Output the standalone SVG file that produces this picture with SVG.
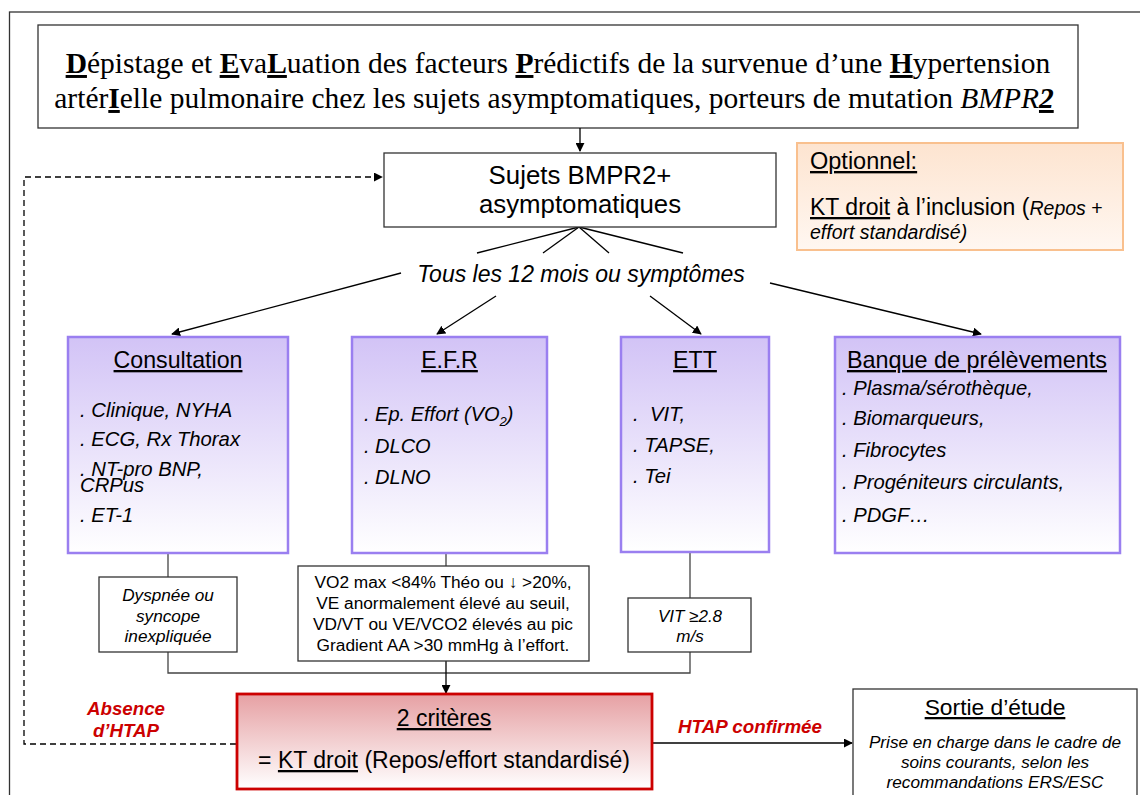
<svg xmlns="http://www.w3.org/2000/svg" width="1140" height="795" viewBox="0 0 1140 795">
  <defs>
    <linearGradient id="gPurple" x1="0" y1="0" x2="0" y2="1">
      <stop offset="0" stop-color="#d2c3f6"/>
      <stop offset="1" stop-color="#ffffff"/>
    </linearGradient>
    <linearGradient id="gRed" x1="0" y1="0" x2="0" y2="1">
      <stop offset="0" stop-color="#e6a0a3"/>
      <stop offset="1" stop-color="#ffffff"/>
    </linearGradient>
    <linearGradient id="gOrange" x1="0" y1="0" x2="0" y2="1">
      <stop offset="0" stop-color="#fde4d0"/>
      <stop offset="1" stop-color="#fff7f1"/>
    </linearGradient>
    <marker id="arr" viewBox="0 0 10 10" refX="9" refY="5" markerWidth="9" markerHeight="9" markerUnits="userSpaceOnUse" orient="auto">
      <path d="M0,0 L10,5 L0,10 Z" fill="#000"/>
    </marker>
  </defs>
  <style>
    .serif { font-family: "Liberation Serif", "Times New Roman", serif; fill: #000; }
    .sans { font-family: "Liberation Sans", Arial, sans-serif; fill: #000; }
    .it { font-style: italic; }
    .u { text-decoration: underline; }
    .b { font-weight: bold; }
    .box { fill: #fff; stroke: #333; stroke-width: 1.3; }
    .pbox { fill: url(#gPurple); stroke: #9a7ff0; stroke-width: 2.5; }
    .line { fill: none; stroke: #000; stroke-width: 1.3; }
    .grey { fill: none; stroke: #444; stroke-width: 1.3; }
    .red { fill: #cc0000; }
  </style>

  <!-- outer frame -->
  <rect x="9.5" y="12" width="1140" height="800" fill="none" stroke="#333" stroke-width="1.3"/>

  <!-- title -->
  <g id="title">
    <rect class="box" x="38" y="25" width="1040" height="103"/>
    <text class="serif" x="558" y="73" font-size="29.5" text-anchor="middle"><tspan class="b u">D</tspan>épistage et <tspan class="b u">E</tspan>va<tspan class="b u">L</tspan>uation des facteurs <tspan class="b u">P</tspan>rédictifs de la survenue d’une <tspan class="b u">H</tspan>ypertension</text>
    <text class="serif" x="554" y="108" font-size="29.5" text-anchor="middle">artér<tspan class="b u">I</tspan>elle pulmonaire chez les sujets asymptomatiques, porteurs de mutation <tspan class="it">BMPR</tspan><tspan class="it b u">2</tspan></text>
  </g>

  <!-- connectors -->
  <g id="connectors">
    <line class="line" x1="580" y1="128" x2="580" y2="151" marker-end="url(#arr)"/>
    <!-- fan from subjects box -->
    <line class="line" x1="579" y1="227" x2="477" y2="253"/>
    <line class="line" x1="579" y1="227" x2="543" y2="253"/>
    <line class="line" x1="579" y1="227" x2="609" y2="253"/>
    <line class="line" x1="579" y1="227" x2="683" y2="253"/>
    <!-- to the four exams -->
    <line class="line" x1="401" y1="273" x2="172" y2="334" marker-end="url(#arr)"/>
    <line class="line" x1="496" y1="296" x2="437" y2="334" marker-end="url(#arr)"/>
    <line class="line" x1="650" y1="296" x2="701" y2="334" marker-end="url(#arr)"/>
    <line class="line" x1="770" y1="283" x2="981" y2="334" marker-end="url(#arr)"/>
    <!-- exams to criteria -->
    <line class="grey" x1="168" y1="553" x2="168" y2="577"/>
    <line class="grey" x1="446" y1="553" x2="446" y2="566"/>
    <line class="grey" x1="690" y1="552" x2="690" y2="598"/>
    <polyline class="grey" points="168,652 168,673 690,673 690,652"/>
    <line class="line" x1="446" y1="661" x2="446" y2="693" marker-end="url(#arr)"/>
    <!-- confirmed -->
    <line class="line" x1="652" y1="743" x2="852" y2="743" marker-end="url(#arr)"/>
    <!-- loop back -->
    <polyline fill="none" stroke="#000" stroke-width="1.3" stroke-dasharray="6,4" points="236,744 24,744 24,177 382,177" marker-end="url(#arr)"/>
  </g>

  <g id="sujets">
    <rect class="box" x="384" y="153" width="392" height="74"/>
    <text class="sans" x="580" y="184" font-size="25.8" text-anchor="middle">Sujets BMPR2+</text>
    <text class="sans" x="580" y="213" font-size="25.8" text-anchor="middle">asymptomatiques</text>
  </g>

  <g id="optionnel">
    <rect x="797" y="143" width="326" height="107" fill="url(#gOrange)" stroke="#f9c08e" stroke-width="2"/>
    <text class="sans u" x="810" y="169" font-size="23.5">Optionnel:</text>
    <text class="sans" x="810" y="215" font-size="23"><tspan class="u">KT droit</tspan> à l’inclusion (<tspan class="it" font-size="19.5">Repos</tspan><tspan font-size="19.5"> +</tspan></text>
    <text class="sans it" x="810" y="239" font-size="19.5">effort standardisé)</text>
  </g>

  <g id="frequence">
    <text class="sans it" x="581" y="282" font-size="23" text-anchor="middle">Tous les 12 mois ou symptômes</text>
  </g>

  <g id="consultation">
    <rect class="pbox" x="68" y="337" width="220" height="216"/>
    <text class="sans u" x="178" y="368" font-size="23.2" text-anchor="middle">Consultation</text>
    <g class="sans it" font-size="20.3">
      <text x="80" y="417">. Clinique, NYHA</text>
      <text x="80" y="446">. ECG, Rx Thorax</text>
      <text x="80" y="476">. NT-pro BNP,</text>
      <text x="80" y="492">CRPus</text>
      <text x="80" y="522">. ET-1</text>
    </g>
  </g>

  <g id="efr">
    <rect class="pbox" x="352" y="337" width="195" height="216"/>
    <text class="sans u" x="449.5" y="368" font-size="23.2" text-anchor="middle">E.F.R</text>
    <g class="sans it" font-size="20">
      <text x="364" y="421">. Ep. Effort (VO<tspan font-size="13" dy="5">2</tspan><tspan dy="-5">)</tspan></text>
      <text x="364" y="453">. DLCO</text>
      <text x="364" y="484">. DLNO</text>
    </g>
  </g>

  <g id="ett">
    <rect class="pbox" x="621" y="337" width="148" height="215"/>
    <text class="sans u" x="695" y="368" font-size="23.2" text-anchor="middle">ETT</text>
    <g class="sans it" font-size="20.3">
      <text x="633" y="421" xml:space="preserve">.  VIT,</text>
      <text x="633" y="452">. TAPSE,</text>
      <text x="633" y="483">. Tei</text>
    </g>
  </g>

  <g id="banque">
    <rect class="pbox" x="835" y="337" width="285" height="216"/>
    <text class="sans u" x="977" y="368" font-size="23.4" text-anchor="middle">Banque de prélèvements</text>
    <g class="sans it" font-size="20.2">
      <text x="842" y="395">. Plasma/sérothèque,</text>
      <text x="842" y="425">. Biomarqueurs,</text>
      <text x="842" y="457">. Fibrocytes</text>
      <text x="842" y="489">. Progéniteurs circulants,</text>
      <text x="842" y="522">. PDGF…</text>
    </g>
  </g>

  <g id="dyspnee">
    <rect class="box" x="99" y="577" width="138" height="75"/>
    <g class="sans it" font-size="17.2" text-anchor="middle">
      <text x="168" y="601">Dyspnée ou</text>
      <text x="168" y="622">syncope</text>
      <text x="168" y="642">inexpliquée</text>
    </g>
  </g>

  <g id="vo2">
    <rect class="box" x="298" y="566" width="291" height="95"/>
    <g class="sans" font-size="17.3" text-anchor="middle">
      <text x="443" y="588">VO2 max &lt;84% Théo ou ↓  &gt;20%,</text>
      <text x="443" y="609">VE anormalement élevé au seuil,</text>
      <text x="443" y="630">VD/VT ou VE/VCO2 élevés au pic</text>
      <text x="443" y="651">Gradient AA &gt;30 mmHg à l’effort.</text>
    </g>
  </g>

  <g id="vit">
    <rect class="box" x="628" y="598" width="123" height="54"/>
    <g class="sans it" font-size="17" text-anchor="middle">
      <text x="690" y="622">VIT ≥2.8</text>
      <text x="690" y="642">m/s</text>
    </g>
  </g>

  <g id="criteres">
    <rect x="237" y="694" width="415" height="95" fill="url(#gRed)" stroke="#cc0000" stroke-width="2.8"/>
    <text class="sans u" x="444" y="726" font-size="23" text-anchor="middle">2 critères</text>
    <text class="sans" x="444" y="768" font-size="23" text-anchor="middle">= <tspan class="u">KT droit</tspan> (Repos/effort standardisé)</text>
  </g>

  <g id="labels">
    <text class="sans it b red" x="126" y="715" font-size="18.7" text-anchor="middle">Absence</text>
    <text class="sans it b red" x="126" y="737" font-size="18.7" text-anchor="middle">d’HTAP</text>
    <text class="sans it b red" x="750" y="733" font-size="18.8" text-anchor="middle">HTAP confirmée</text>
  </g>

  <g id="sortie">
    <rect class="box" x="853" y="689" width="284" height="120"/>
    <text class="sans u" x="995" y="715" font-size="22.8" text-anchor="middle">Sortie d’étude</text>
    <g class="sans it" font-size="17.2" text-anchor="middle">
      <text x="995" y="748">Prise en charge dans le cadre de</text>
      <text x="995" y="768">soins courants, selon les</text>
      <text x="995" y="788">recommandations ERS/ESC</text>
    </g>
  </g>
</svg>
